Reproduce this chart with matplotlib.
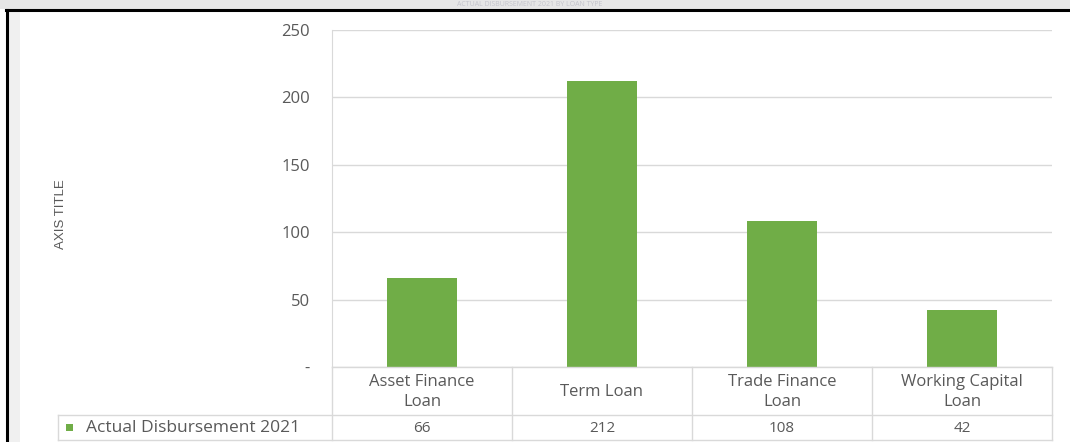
import matplotlib
matplotlib.use("Agg")
import matplotlib.pyplot as plt
from matplotlib.lines import Line2D
from matplotlib.patches import Rectangle

categories = ["Asset Finance\nLoan", "Term Loan", "Trade Finance\nLoan", "Working Capital\nLoan"]
values = [66, 212, 108, 42]
series_name = "Actual Disbursement 2021"
yticks = [0, 50, 100, 150, 200, 250]
ytick_labels = ["-", "50", "100", "150", "200", "250"]
axis_title = "AXIS TITLE"
chart_title = "ACTUAL DISBURSEMENT 2021 BY LOAN TYPE"

W, H = 1070, 442
plt.rcParams['font.family'] = ['Open Sans', 'DejaVu Sans']
fig = plt.figure(figsize=(W / 100, H / 100), dpi=100)
fig.patch.set_facecolor("white")

def fx(px):
    return px / W

def fy(py):
    return 1 - py / H

GREEN = "#70ad47"
GRID = "#d9d9d9"
TXT = "#595959"

# top grey band, frame lines
fig.add_artist(Rectangle((0, fy(9)), 1, 9 / H, transform=fig.transFigure,
                         facecolor="#e6e6e6", edgecolor="none", zorder=0))
fig.text(fx(530), fy(4.5), chart_title, ha="center", va="center", fontsize=5,
         color="#c4c4cc", zorder=1)
fig.add_artist(Line2D([fx(6), 1], [fy(9.5), fy(9.5)], color="black", lw=2.2,
                      transform=fig.transFigure))
fig.add_artist(Line2D([fx(7), fx(7)], [fy(9.5), 0], color="black", lw=2.2,
                      transform=fig.transFigure))
fig.add_artist(Rectangle((fx(9), 0), 11 / W, fy(11), transform=fig.transFigure,
                         facecolor="#f0f0f0", edgecolor="none", zorder=0))

# plot area
x0, x1 = 332, 1052
ytop, ybot = 30, 367
ax = fig.add_axes([fx(x0), fy(ybot), (x1 - x0) / W, (ybot - ytop) / H])
n = len(categories)
xs = list(range(n))
ax.bar(xs, values, width=0.39, color=GREEN, zorder=3)
ax.set_xlim(-0.5, n - 0.5)
ax.set_ylim(0, 250)
ax.set_yticks(yticks)
ax.set_yticklabels(ytick_labels, fontsize=12, color=TXT)
ax.tick_params(axis="y", length=0, pad=16)
ax.set_xticks([])
ax.grid(axis="y", color=GRID, lw=1, zorder=0)
for s in ["top", "right", "bottom"]:
    ax.spines[s].set_visible(False)
ax.spines["left"].set_color(GRID)
ax.set_facecolor("none")

fig.text(fx(61), fy(214), axis_title, rotation=90, ha="center", va="center",
         fontsize=9.5, color=TXT, family=["Liberation Sans", "DejaVu Sans"])

# data table below the axis
col_w = (x1 - x0) / n
row1_top, row1_bot, row2_bot = 367, 415, 440
leg_left = 58

def hline(xa, xb, y):
    fig.add_artist(Line2D([fx(xa), fx(xb)], [fy(y), fy(y)], color=GRID, lw=1,
                          transform=fig.transFigure))

def vline(x, ya, yb):
    fig.add_artist(Line2D([fx(x), fx(x)], [fy(ya), fy(yb)], color=GRID, lw=1,
                          transform=fig.transFigure))

hline(x0, x1, row1_top)
hline(leg_left, x1, row1_bot)
hline(leg_left, x1, row2_bot)
vline(leg_left, row1_bot, row2_bot)
for i in range(n + 1):
    vline(x0 + i * col_w, row1_top, row2_bot)

for i, (c, v) in enumerate(zip(categories, values)):
    cx = x0 + (i + 0.5) * col_w
    fig.text(fx(cx), fy((row1_top + row1_bot) / 2 + 1), c, ha="center", va="center",
             fontsize=12, color=TXT, linespacing=1.3)
    fig.text(fx(cx), fy((row1_bot + row2_bot) / 2 + 1), str(v), ha="center",
             va="center", fontsize=11, color=TXT)

fig.add_artist(Rectangle((fx(66), fy(431)), 7 / W, 7 / H, transform=fig.transFigure,
                         facecolor=GREEN, edgecolor="none"))
fig.text(fx(86), fy((row1_bot + row2_bot) / 2 + 1), series_name, ha="left",
         va="center", fontsize=12.5, color=TXT)

fig.savefig("out.png", dpi=100)
